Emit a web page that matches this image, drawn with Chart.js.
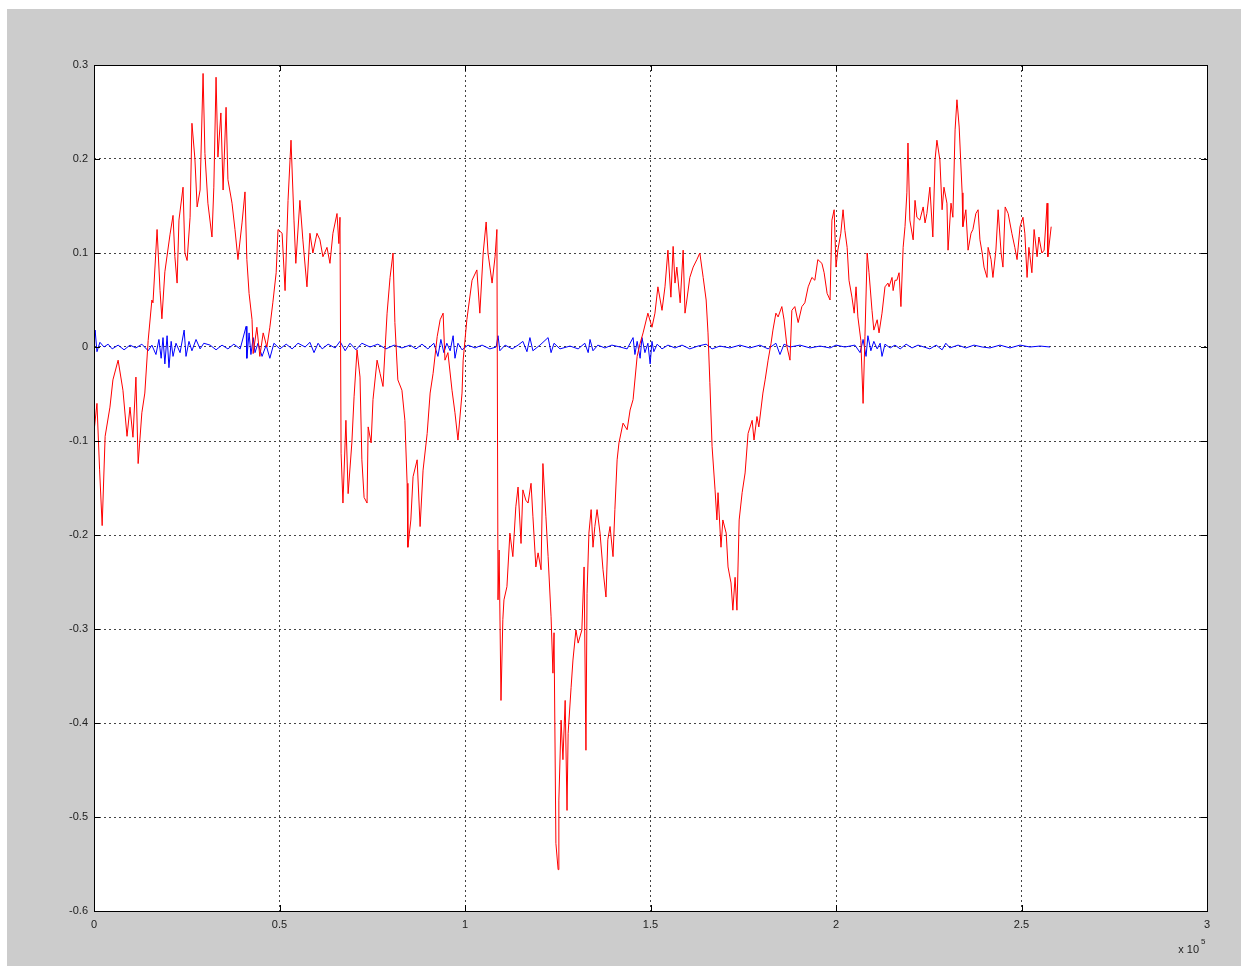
<!DOCTYPE html>
<html>
<head>
<meta charset="utf-8">
<script src="https://cdn.jsdelivr.net/npm/chart.js@4"></script>
<style>
  body { margin: 0; background: #ffffff; }
  #wrap { width: 1241px; height: 966px; }
</style>
</head>
<body>
<div id="wrap"><canvas id="plot" width="1241" height="966"></canvas></div>
<script>
// x values are in units of 1e5 samples (axis shows "x 10^5")
const redX = [0, 0.008, 0.015, 0.022, 0.030, 0.043, 0.051, 0.065, 0.078, 0.089, 0.097, 0.105, 0.113, 0.119, 0.129, 0.137, 0.146, 0.156,
  0.159, 0.170, 0.178, 0.183, 0.191, 0.205, 0.213, 0.218, 0.224, 0.229, 0.240, 0.245, 0.251, 0.259, 0.264, 0.272, 0.278, 0.286,
  0.294, 0.299, 0.307, 0.318, 0.323, 0.329, 0.334, 0.342, 0.348, 0.356, 0.361, 0.372, 0.380, 0.388, 0.399, 0.407, 0.412, 0.418,
  0.426, 0.429, 0.439, 0.447, 0.456, 0.466, 0.474, 0.482, 0.491, 0.496, 0.507, 0.515, 0.523, 0.531, 0.539, 0.544, 0.555, 0.563,
  0.574, 0.582, 0.590, 0.601, 0.609, 0.617, 0.628, 0.636, 0.644, 0.655, 0.660, 0.663, 0.666, 0.671, 0.679, 0.685, 0.695, 0.701,
  0.709, 0.717, 0.722, 0.728, 0.736, 0.739, 0.747, 0.752, 0.763, 0.771, 0.779, 0.790, 0.798, 0.806, 0.811, 0.819, 0.830, 0.838,
  0.844, 0.846, 0.854, 0.860, 0.871, 0.879, 0.887, 0.898, 0.906, 0.914, 0.925, 0.933, 0.941, 0.946, 0.954, 0.965, 0.973, 0.981,
  0.992, 0.995, 1.005, 1.019, 1.032, 1.040, 1.049, 1.057, 1.062, 1.073, 1.081, 1.086, 1.089, 1.092, 1.097, 1.102, 1.105, 1.113,
  1.121, 1.129, 1.137, 1.143, 1.151, 1.156, 1.164, 1.170, 1.178, 1.183, 1.191, 1.197, 1.205, 1.210, 1.218, 1.224, 1.232, 1.237,
  1.240, 1.245, 1.251, 1.253, 1.259, 1.264, 1.270, 1.275, 1.278, 1.286, 1.291, 1.299, 1.305, 1.315, 1.321, 1.326, 1.329, 1.334,
  1.340, 1.345, 1.350, 1.356, 1.364, 1.372, 1.380, 1.385, 1.391, 1.399, 1.404, 1.410, 1.415, 1.426, 1.437, 1.445, 1.453, 1.464,
  1.472, 1.480, 1.493, 1.504, 1.512, 1.520, 1.531, 1.539, 1.547, 1.555, 1.561, 1.566, 1.571, 1.580, 1.588, 1.593, 1.598, 1.606,
  1.615, 1.625, 1.633, 1.642, 1.650, 1.655, 1.660, 1.666, 1.674, 1.679, 1.682, 1.690, 1.695, 1.704, 1.709, 1.717, 1.722, 1.728,
  1.733, 1.739, 1.747, 1.755, 1.763, 1.774, 1.779, 1.787, 1.792, 1.803, 1.809, 1.817, 1.825, 1.830, 1.838, 1.844, 1.854, 1.860,
  1.868, 1.876, 1.881, 1.889, 1.898, 1.908, 1.916, 1.925, 1.935, 1.943, 1.951, 1.962, 1.968, 1.976, 1.984, 1.989, 1.995, 2.000,
  2.005, 2.013, 2.019, 2.024, 2.030, 2.035, 2.043, 2.049, 2.054, 2.059, 2.067, 2.073, 2.078, 2.084, 2.089, 2.097, 2.102, 2.111,
  2.116, 2.124, 2.132, 2.140, 2.143, 2.151, 2.154, 2.159, 2.164, 2.170, 2.175, 2.181, 2.186, 2.191, 2.194, 2.199, 2.208, 2.213,
  2.218, 2.226, 2.235, 2.240, 2.245, 2.253, 2.261, 2.267, 2.272, 2.280, 2.286, 2.291, 2.299, 2.302, 2.310, 2.315, 2.321, 2.326,
  2.332, 2.340, 2.342, 2.350, 2.356, 2.364, 2.369, 2.377, 2.383, 2.388, 2.394, 2.399, 2.407, 2.410, 2.418, 2.423, 2.431, 2.437,
  2.445, 2.450, 2.456, 2.464, 2.474, 2.482, 2.488, 2.496, 2.504, 2.509, 2.515, 2.520, 2.528, 2.534, 2.542, 2.547, 2.555, 2.561,
  2.569, 2.571, 2.580];
const redY = [-0.09, -0.06, -0.13, -0.19, -0.095, -0.064, -0.035, -0.014, -0.046, -0.095, -0.064, -0.096, -0.032, -0.124, -0.07, -0.049, 0.007, 0.05,
  0.047, 0.125, 0.06, 0.03, 0.08, 0.12, 0.14, 0.096, 0.068, 0.135, 0.17, 0.1, 0.092, 0.138, 0.238, 0.2, 0.149, 0.167,
  0.291, 0.206, 0.153, 0.117, 0.17, 0.287, 0.202, 0.249, 0.167, 0.255, 0.178, 0.153, 0.125, 0.093, 0.132, 0.165, 0.093, 0.057,
  0.029, -0.007, 0.021, -0.01, 0.015, 0.0, 0.021, 0.047, 0.079, 0.125, 0.121, 0.06, 0.156, 0.22, 0.135, 0.089, 0.156, 0.114,
  0.064, 0.121, 0.1, 0.121, 0.114, 0.096, 0.106, 0.089, 0.121, 0.142, 0.11, 0.138, -0.113, -0.166, -0.078, -0.156, -0.102, -0.053,
  -0.003, -0.032, -0.12, -0.16, -0.166, -0.085, -0.102, -0.056, -0.014, -0.028, -0.042, 0.036, 0.074, 0.1, 0.026, -0.035, -0.046, -0.078,
  -0.145, -0.213, -0.184, -0.138, -0.12, -0.191, -0.131, -0.092, -0.049, -0.028, 0.011, 0.029, 0.036, -0.014, -0.006, -0.046, -0.07, -0.099,
  -0.049, -0.014, 0.029, 0.071, 0.082, 0.036, 0.1, 0.133, 0.1, 0.068, 0.096, 0.125, -0.269, -0.216, -0.376, -0.29, -0.269, -0.255,
  -0.198, -0.223, -0.17, -0.149, -0.209, -0.152, -0.163, -0.166, -0.145, -0.18, -0.234, -0.219, -0.237, -0.124, -0.18, -0.223, -0.287, -0.347,
  -0.304, -0.528, -0.556, -0.482, -0.397, -0.439, -0.376, -0.493, -0.411, -0.362, -0.333, -0.301, -0.315, -0.301, -0.234, -0.429, -0.262, -0.198,
  -0.173, -0.213, -0.191, -0.173, -0.198, -0.237, -0.266, -0.205, -0.191, -0.223, -0.173, -0.12, -0.102, -0.081, -0.088, -0.067, -0.056, -0.01,
  0.004, 0.015, 0.036, 0.021, 0.036, 0.064, 0.039, 0.064, 0.103, 0.053, 0.107, 0.068, 0.085, 0.047, 0.103, 0.036, 0.05, 0.074,
  0.085, 0.093, 0.1, 0.074, 0.05, 0.015, -0.038, -0.106, -0.152, -0.184, -0.155, -0.213, -0.184, -0.198, -0.234, -0.251, -0.28, -0.245,
  -0.28, -0.184, -0.155, -0.134, -0.092, -0.078, -0.099, -0.074, -0.085, -0.049, -0.035, -0.014, 0.004, 0.018, 0.036, 0.032, 0.043, 0.029,
  0.0, -0.014, 0.039, 0.043, 0.026, 0.043, 0.047, 0.064, 0.074, 0.071, 0.093, 0.089, 0.079, 0.057, 0.05, 0.135, 0.146, 0.085,
  0.103, 0.121, 0.146, 0.124, 0.106, 0.071, 0.053, 0.036, 0.064, 0.032, 0.007, -0.06, 0.011, 0.1, 0.079, 0.039, 0.018, 0.029,
  0.015, 0.036, 0.064, 0.068, 0.064, 0.074, 0.06, 0.071, 0.071, 0.079, 0.043, 0.106, 0.128, 0.164, 0.217, 0.135, 0.114, 0.156,
  0.138, 0.135, 0.149, 0.132, 0.142, 0.17, 0.117, 0.199, 0.22, 0.199, 0.146, 0.17, 0.153, 0.103, 0.153, 0.138, 0.231, 0.263,
  0.234, 0.164, 0.128, 0.146, 0.103, 0.121, 0.125, 0.142, 0.146, 0.114, 0.1, 0.085, 0.074, 0.106, 0.093, 0.074, 0.103, 0.146,
  0.1, 0.085, 0.149, 0.142, 0.121, 0.106, 0.093, 0.128, 0.138, 0.121, 0.074, 0.106, 0.079, 0.125, 0.096, 0.117, 0.1, 0.103,
  0.153, 0.096, 0.128];

const blueX = [0, 0.003, 0.008, 0.016, 0.027, 0.038, 0.049, 0.065, 0.081, 0.097, 0.113, 0.129, 0.146, 0.156, 0.167, 0.175, 0.181, 0.186,
  0.191, 0.197, 0.202, 0.208, 0.213, 0.221, 0.232, 0.243, 0.248, 0.256, 0.264, 0.275, 0.286, 0.296, 0.313, 0.329, 0.345, 0.361,
  0.377, 0.394, 0.410, 0.412, 0.418, 0.423, 0.429, 0.434, 0.442, 0.453, 0.464, 0.474, 0.485, 0.501, 0.518, 0.534, 0.550, 0.569,
  0.582, 0.593, 0.604, 0.615, 0.631, 0.650, 0.663, 0.677, 0.690, 0.706, 0.722, 0.744, 0.765, 0.787, 0.809, 0.830, 0.852, 0.868,
  0.884, 0.900, 0.916, 0.927, 0.935, 0.943, 0.951, 0.960, 0.968, 0.973, 0.981, 0.992, 1.008, 1.027, 1.046, 1.067, 1.084, 1.089,
  1.094, 1.108, 1.127, 1.143, 1.156, 1.167, 1.175, 1.183, 1.202, 1.224, 1.232, 1.240, 1.256, 1.283, 1.305, 1.323, 1.332, 1.337,
  1.345, 1.358, 1.377, 1.396, 1.418, 1.437, 1.453, 1.458, 1.464, 1.472, 1.477, 1.485, 1.493, 1.499, 1.504, 1.509, 1.518, 1.531,
  1.547, 1.566, 1.585, 1.606, 1.628, 1.650, 1.666, 1.687, 1.714, 1.741, 1.768, 1.795, 1.817, 1.838, 1.849, 1.860, 1.876, 1.903,
  1.930, 1.957, 1.984, 2.000, 2.024, 2.051, 2.065, 2.073, 2.081, 2.086, 2.094, 2.102, 2.111, 2.119, 2.124, 2.132, 2.146, 2.159,
  2.173, 2.189, 2.205, 2.221, 2.237, 2.253, 2.270, 2.286, 2.296, 2.307, 2.329, 2.350, 2.372, 2.394, 2.415, 2.442, 2.469, 2.496,
  2.523, 2.550, 2.577];
const blueY = [0.0, 0.018, -0.005, 0.005, 0.0, 0.003, -0.002, 0.002, -0.003, 0.002, -0.001, 0.003, -0.004, 0.002, -0.008, 0.008, -0.012, 0.010,
  -0.018, 0.012, -0.022, 0.006, -0.010, 0.004, -0.006, 0.018, -0.010, 0.006, -0.004, 0.008, -0.002, 0.004, 0.002, -0.003, 0.002, -0.002,
  0.003, -0.002, 0.022, -0.012, 0.015, -0.008, 0.010, -0.006, 0.004, -0.010, 0.002, -0.012, 0.004, -0.002, 0.003, -0.002, 0.004, 0.0,
  0.005, -0.006, 0.004, -0.002, 0.003, -0.001, 0.006, -0.004, 0.004, -0.003, 0.004, 0.0, 0.003, -0.002, 0.002, -0.001, 0.002, -0.002,
  0.003, -0.002, 0.004, -0.010, 0.008, -0.006, 0.004, -0.004, 0.012, -0.012, 0.004, -0.003, 0.002, -0.001, 0.002, -0.002, 0.0, 0.012,
  -0.004, 0.002, -0.002, 0.002, 0.006, -0.005, 0.010, -0.004, 0.002, 0.010, -0.006, 0.004, -0.002, 0.001, -0.002, 0.004, -0.006, 0.008,
  -0.004, 0.002, -0.001, 0.002, 0.0, -0.002, 0.010, -0.008, 0.006, -0.012, 0.010, -0.006, 0.004, -0.018, 0.006, -0.005, 0.003, -0.002,
  0.002, -0.001, 0.002, -0.002, 0.001, 0.003, -0.002, 0.001, -0.001, 0.002, -0.001, 0.002, -0.002, 0.004, -0.008, 0.003, 0.0, 0.002,
  -0.001, 0.001, -0.001, 0.002, 0.0, 0.002, -0.006, 0.008, -0.010, 0.012, -0.004, 0.006, -0.002, 0.004, -0.010, 0.003, -0.001, 0.002,
  -0.002, 0.003, -0.001, 0.002, 0.0, -0.002, 0.002, -0.003, 0.004, -0.001, 0.002, -0.001, 0.002, 0.0, -0.001, 0.002, -0.001, 0.002,
  0.0, 0.001, 0.0];

const xTicks = [0, 0.5, 1, 1.5, 2, 2.5, 3];
const yTicks = [0.3, 0.2, 0.1, 0, -0.1, -0.2, -0.3, -0.4, -0.5, -0.6];
const xMultiplier = "x 10";
const xExponent = "5";

const toPoints = (xs, ys) => xs.map((x, i) => ({ x: x, y: ys[i] }));

const framePlugin = {
  id: "frame",
  beforeDraw(chart) {
    const ctx = chart.ctx;
    ctx.save();
    ctx.fillStyle = "#cccccc";
    ctx.fillRect(7, 9, chart.width, chart.height);
    const a = chart.chartArea;
    ctx.fillStyle = "#ffffff";
    ctx.fillRect(a.left, a.top, a.right - a.left, a.bottom - a.top);
    ctx.restore();
  },
  afterDraw(chart) {
    const ctx = chart.ctx;
    const a = chart.chartArea;
    const xs = chart.scales.x, ys = chart.scales.y;
    ctx.save();
    ctx.strokeStyle = "#000000";
    ctx.lineWidth = 1;
    ctx.strokeRect(Math.round(a.left) + 0.5, Math.round(a.top) + 0.5, Math.round(a.right - a.left), Math.round(a.bottom - a.top));
    // inner tick marks like the original plot
    ctx.beginPath();
    xTicks.forEach(v => {
      const px = Math.round(xs.getPixelForValue(v)) + 0.5;
      ctx.moveTo(px, a.bottom); ctx.lineTo(px, a.bottom - 6);
      ctx.moveTo(px, a.top); ctx.lineTo(px, a.top + 6);
    });
    yTicks.forEach(v => {
      const py = Math.round(ys.getPixelForValue(v)) + 0.5;
      ctx.moveTo(a.left, py); ctx.lineTo(a.left + 6, py);
      ctx.moveTo(a.right, py); ctx.lineTo(a.right - 6, py);
    });
    ctx.stroke();
    // exponent label
    ctx.fillStyle = "#222222";
    ctx.font = "11px 'Liberation Sans', Arial, sans-serif";
    ctx.textAlign = "right";
    ctx.textBaseline = "alphabetic";
    ctx.fillText(xMultiplier, a.right - 8, a.bottom + 42);
    ctx.font = "8px 'Liberation Sans', Arial, sans-serif";
    ctx.textAlign = "left";
    ctx.fillText(xExponent, a.right - 6, a.bottom + 33);
    ctx.restore();
  }
};

const tickFont = { family: "'Liberation Sans', Arial, sans-serif", size: 11 };

new Chart(document.getElementById("plot"), {
  type: "line",
  data: {
    datasets: [
      {
        data: toPoints(redX, redY),
        borderColor: "#ff0000",
        borderWidth: 1,
        pointRadius: 0,
        tension: 0
      },
      {
        data: toPoints(blueX, blueY),
        borderColor: "#0000ff",
        borderWidth: 1,
        pointRadius: 0,
        tension: 0
      }
    ]
  },
  options: {
    responsive: false,
    animation: false,
    events: [],
    layout: { padding: { left: 0, top: 65, right: 34, bottom: 0 } },
    plugins: { legend: { display: false }, tooltip: { enabled: false } },
    scales: {
      x: {
        type: "linear",
        min: 0,
        max: 3,
        afterFit: s => { s.height = 55; },
        afterBuildTicks: s => { s.ticks = xTicks.map(v => ({ value: v })); },
        grid: { color: "#444444", lineWidth: 1, drawTicks: false },
        border: { display: false, dash: [2, 3] },
        ticks: {
          padding: 7,
          color: "#222222",
          font: tickFont,
          maxRotation: 0,
          callback: v => String(Math.round(v * 10) / 10)
        }
      },
      y: {
        type: "linear",
        min: -0.6,
        max: 0.3,
        afterFit: s => { s.width = 94; },
        afterBuildTicks: s => { s.ticks = yTicks.map(v => ({ value: v })); },
        grid: { color: "#444444", lineWidth: 1, drawTicks: false },
        border: { display: false, dash: [2, 3] },
        ticks: {
          padding: 6,
          color: "#222222",
          font: tickFont,
          callback: v => String(Math.round(v * 10) / 10)
        }
      }
    }
  },
  plugins: [framePlugin]
});
</script>
</body>
</html>
